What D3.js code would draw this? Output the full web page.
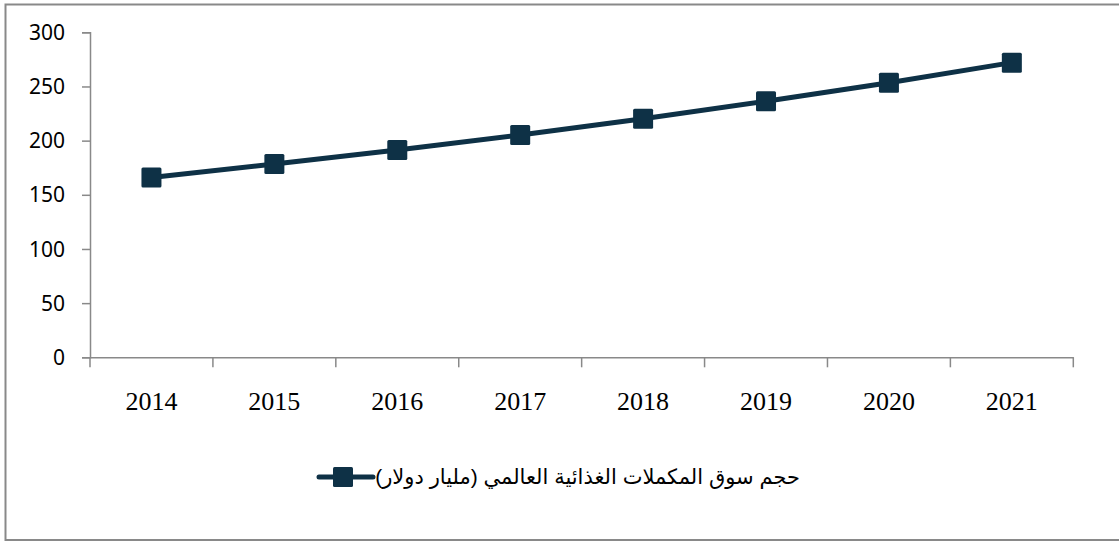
<!DOCTYPE html>
<html><head><meta charset="utf-8">
<script src="https://cdn.jsdelivr.net/npm/d3@7"></script>
<style>html,body{margin:0;padding:0;background:#fff;}svg{display:block;}</style>
</head><body>
<svg id="c" width="1119" height="541"></svg>
<script>
const years = ["2014","2015","2016","2017","2018","2019","2020","2021"];
const values = [166, 178.4, 191.4, 205.2, 220.2, 236.3, 253.5, 272];
const yTicks = [0, 50, 100, 150, 200, 250, 300];
const seriesName = "حجم سوق المكملات الغذائية العالمي (مليار دولار)";

const svg = d3.select("#c");
const navy = "#0e3146", gray = "#898989";

svg.append("rect").attr("x",5.5).attr("y",4.5).attr("width",1130).attr("height",535.5)
  .attr("fill","#fff").attr("stroke",gray).attr("stroke-width",2);

const x = d3.scaleBand().domain(years).range([90,1073.3]).paddingInner(0).paddingOuter(0);
const y = d3.scaleLinear().domain([0,300]).range([357.3,32.3]);

// Y axis
const yAxis = svg.append("g").attr("transform","translate(90,0)")
  .call(d3.axisLeft(y).tickValues(yTicks).tickSize(8).tickPadding(17));
yAxis.select(".domain").attr("stroke",gray).attr("stroke-width",1.5);
yAxis.selectAll(".tick line").attr("stroke",gray).attr("stroke-width",1.5);
yAxis.selectAll(".tick text").attr("font-family","'Noto Sans', 'Open Sans', sans-serif")
  .attr("font-size",21).attr("fill","#000").attr("dy","0.34em");

// X axis
const xAxis = svg.append("g").attr("transform",`translate(0,${y(0)})`)
  .call(d3.axisBottom(x).tickSize(0).tickPadding(0).tickSizeOuter(0));
xAxis.select(".domain").attr("stroke",gray).attr("stroke-width",1.5);
xAxis.selectAll(".tick text").attr("font-family","'Liberation Serif', 'Times New Roman', serif")
  .attr("font-size",26).attr("fill","#000").attr("dy",0).attr("y",53);
// category boundary ticks
const bounds = years.map(d=>x(d)).concat([x(years[years.length-1])+x.bandwidth()]);
svg.append("g").selectAll("line").data(bounds).join("line")
  .attr("x1",d=>d).attr("x2",d=>d).attr("y1",y(0)).attr("y2",y(0)+10)
  .attr("stroke",gray).attr("stroke-width",1.5);

// Line
const cx = d => x(d) + x.bandwidth()/2;
const line = d3.line().x((d,i)=>cx(years[i])).y(d=>y(d));
svg.append("path").datum(values).attr("d",line).attr("fill","none")
  .attr("stroke",navy).attr("stroke-width",5).attr("stroke-linejoin","round");
svg.append("g").selectAll("rect").data(values).join("rect")
  .attr("x",(d,i)=>cx(years[i])-10).attr("y",d=>y(d)-10)
  .attr("width",20).attr("height",20).attr("rx",1.5).attr("fill",navy);

// Legend
const ly = 477;
svg.append("line").attr("x1",319).attr("x2",373).attr("y1",ly).attr("y2",ly)
  .attr("stroke",navy).attr("stroke-width",5).attr("stroke-linecap","round");
svg.append("rect").attr("x",333).attr("y",ly-10).attr("width",20).attr("height",20).attr("rx",1.5).attr("fill",navy);
svg.append("text").attr("x",800).attr("y",ly).attr("dy","0.35em")
  .attr("direction","rtl").attr("text-anchor","start")
  .attr("font-family","'Liberation Sans', 'DejaVu Sans', sans-serif").attr("font-size",21).attr("fill","#000")
  .text(seriesName);
</script>
</body></html>
